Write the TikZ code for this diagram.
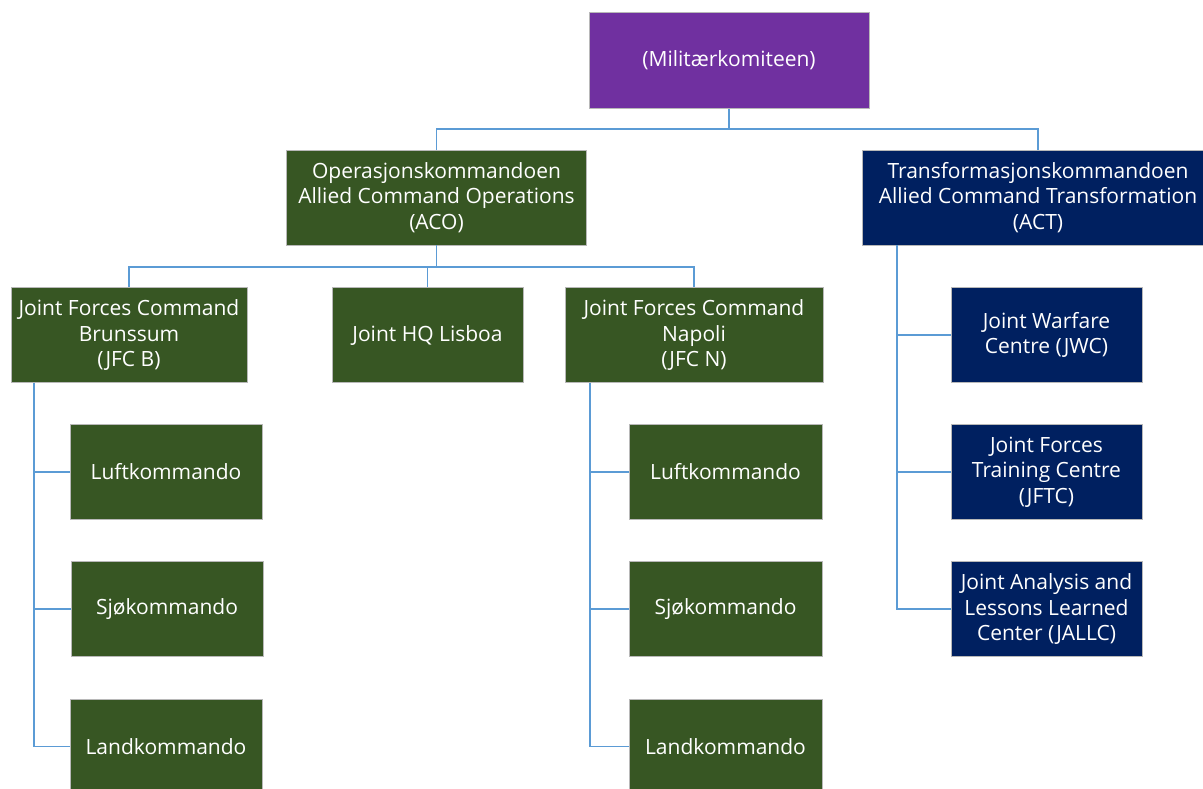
\documentclass[tikz,border=0pt]{standalone}
\usepackage{fontspec}
\setmainfont{Open Sans}
\definecolor{mkpurple}{HTML}{7030A0}
\definecolor{acogreen}{HTML}{375623}
\definecolor{actblue}{HTML}{002060}
\definecolor{linkblue}{HTML}{5B9BD5}
\begin{document}
\begin{tikzpicture}[x=1pt, y=-1pt,
    box/.style={draw=white!72!black, line width=0.6pt, text=white, align=center,
      minimum height=95pt, inner sep=0pt,
      font=\fontsize{21}{25.5}\selectfont},
    mkbox/.style={box, fill=mkpurple},
    acobox/.style={box, fill=acogreen},
    actbox/.style={box, fill=actblue},
    link/.style={linkblue, line width=1.6pt}]
      \useasboundingbox (0,0) rectangle (1203,789);
      % top
      \node[mkbox, minimum width=280pt, minimum height=96pt] (mk) at (729,60.5) {(Militærkomiteen)};
      \node[acobox, minimum width=300pt] (aco) at (436.5,197.5) {Operasjonskommandoen\\Allied Command Operations\\(ACO)};
      \node[actbox, minimum width=352pt] (act) at (1038,197.5) {Transformasjonskommandoen\\Allied Command Transformation\\(ACT)};
      % ACO
      \node[acobox, minimum width=236pt] (jfcb) at (129,335) {Joint Forces Command\\Brunssum\\(JFC B)};
      \node[acobox, minimum width=191pt] (lis) at (427.5,335) {Joint HQ Lisboa};
      \node[acobox, minimum width=258pt] (jfcn) at (694,335) {Joint Forces Command\\Napoli\\(JFC N)};
      \node[acobox, minimum width=192pt] (luftb) at (166,472) {Luftkommando};
      \node[acobox, minimum width=192pt] (sjob) at (167,609) {Sjøkommando};
      \node[acobox, minimum width=192pt] (landb) at (166,746.5) {Landkommando};
      \node[acobox, minimum width=193pt] (luftn) at (725.5,472) {Luftkommando};
      \node[acobox, minimum width=193pt] (sjon) at (725.5,609) {Sjøkommando};
      \node[acobox, minimum width=193pt] (landn) at (725.5,746.5) {Landkommando};
      % ACT
      \node[actbox, minimum width=191pt] (jwc) at (1046.5,335) {Joint Warfare\\Centre (JWC)};
      \node[actbox, minimum width=191pt] (jftc) at (1046.5,472) {Joint Forces\\Training Centre\\(JFTC)};
      \node[actbox, minimum width=191pt] (jallc) at (1046.5,609) {Joint Analysis and\\Lessons Learned\\Center (JALLC)};
      % lines
      \draw[link] (mk.south) -- ++(0,20.5) -| (aco.north);
      \draw[link] (mk.south) -- ++(0,20.5) -| (act.north);
      \draw[link] (aco.south) -- ++(0,21.5) -| (jfcb.north);
      \draw[link] (aco.south) -- ++(0,21.5) -| (lis.north);
      \draw[link] (aco.south) -- ++(0,21.5) -| (jfcn.north);
      \foreach \n in {luftb,sjob,landb}
        \draw[link] ([xshift=23pt]jfcb.south west) |- (\n.west);
      \foreach \n in {luftn,sjon,landn}
        \draw[link] ([xshift=25pt]jfcn.south west) |- (\n.west);
      \foreach \n in {jwc,jftc,jallc}
        \draw[link] ([xshift=35pt]act.south west) |- (\n.west);
\end{tikzpicture}
\end{document}
